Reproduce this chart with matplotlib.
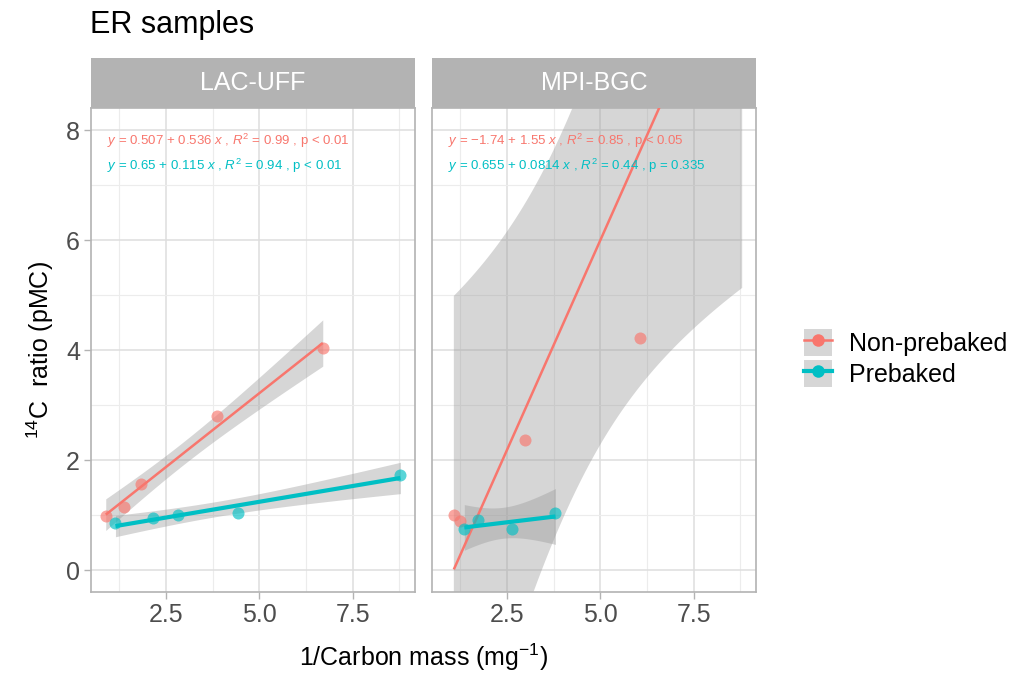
import matplotlib
matplotlib.use("Agg")
import matplotlib.pyplot as plt
import numpy as np
from matplotlib.lines import Line2D
from matplotlib.patches import Patch

plt.rcParams["font.family"] = ["Liberation Sans", "DejaVu Sans"]
plt.rcParams["mathtext.fontset"] = "custom"
plt.rcParams["mathtext.rm"] = "Liberation Sans"
plt.rcParams["mathtext.it"] = "Liberation Sans:italic"

# data (1/carbon mass vs 14C pMC)
panels = ["LAC-UFF", "MPI-BGC"]
groups = ["Non-prebaked", "Prebaked"]

lac_non_x = [0.89, 1.38, 1.83, 3.87, 6.70]
lac_non_y = [0.98, 1.15, 1.56, 2.80, 4.03]
lac_pre_x = [1.15, 2.15, 2.82, 4.43, 8.78]
lac_pre_y = [0.85, 0.94, 1.00, 1.03, 1.73]

# last Non-prebaked MPI point sits above the visible y range
mpi_non_x = [1.08, 1.24, 2.98, 6.06, 8.80]
mpi_non_y = [1.00, 0.89, 2.37, 4.22, 14.1]
mpi_pre_x = [1.36, 1.73, 2.64, 3.80]
mpi_pre_y = [0.75, 0.91, 0.74, 1.03]

labels = {
    ("LAC-UFF", "Non-prebaked"): r"$y$ = 0.507 + 0.536 $x$ , $R^2$ = 0.99 , p < 0.01",
    ("LAC-UFF", "Prebaked"): r"$y$ = 0.65 + 0.115 $x$ , $R^2$ = 0.94 , p < 0.01",
    ("MPI-BGC", "Non-prebaked"): r"$y$ = $-$1.74 + 1.55 $x$ , $R^2$ = 0.85 , p < 0.05",
    ("MPI-BGC", "Prebaked"): r"$y$ = 0.655 + 0.0814 $x$ , $R^2$ = 0.44 , p = 0.335",
}

data = {
    ("LAC-UFF", "Non-prebaked"): (lac_non_x, lac_non_y),
    ("LAC-UFF", "Prebaked"): (lac_pre_x, lac_pre_y),
    ("MPI-BGC", "Non-prebaked"): (mpi_non_x, mpi_non_y),
    ("MPI-BGC", "Prebaked"): (mpi_pre_x, mpi_pre_y),
}

colors = {"Non-prebaked": "#F8766D", "Prebaked": "#00BFC4"}
line_w = {"Non-prebaked": 1.8, "Prebaked": 3.0}
T975 = {2: 4.303, 3: 3.182}


def smooth(ax, x, y, color, lw):
    """lm fit with 95% confidence band, like geom_smooth(method='lm')."""
    x = np.asarray(x); y = np.asarray(y)
    n = len(x)
    b, a = np.polyfit(x, y, 1)
    res = y - (a + b * x)
    s = np.sqrt(np.sum(res ** 2) / (n - 2))
    sxx = np.sum((x - x.mean()) ** 2)
    xg = np.linspace(x.min(), x.max(), 80)
    fit = a + b * xg
    hw = T975[n - 2] * s * np.sqrt(1 / n + (xg - x.mean()) ** 2 / sxx)
    ax.fill_between(xg, fit - hw, fit + hw, color="#999999", alpha=0.4, lw=0, zorder=2)
    ax.plot(xg, fit, color=color, lw=lw, zorder=4, solid_capstyle="butt")


fig = plt.figure(figsize=(10.27, 6.73), dpi=100)
W, H = 1027, 673
lefts = [91, 432]
pw = 324
top, bot = 108, 592
strip_h = 50

for i, p in enumerate(panels):
    ax = fig.add_axes([lefts[i] / W, 1 - bot / H, pw / W, (bot - top) / H])
    for g in groups:
        x, y = data[(p, g)]
        smooth(ax, x, y, colors[g], line_w[g])
        ax.scatter(x, y, s=75, color=colors[g], alpha=0.65, lw=0, zorder=5)
    for j, g in enumerate(groups):
        ax.text(0.92, 7.8 - 0.45 * j, labels[(p, g)], color=colors[g],
                fontsize=9.5, ha="left", va="center", zorder=6)
    ax.set_xlim(0.495, 9.17)
    ax.set_ylim(-0.4, 8.4)
    ax.set_xticks([2.5, 5.0, 7.5])
    ax.set_xticklabels(["2.5", "5.0", "7.5"])
    ax.set_xticks([1.25, 3.75, 6.25, 8.75], minor=True)
    ax.set_yticks([0, 2, 4, 6, 8])
    ax.set_yticks([1, 3, 5, 7], minor=True)
    ax.grid(which="major", color="#dedede", lw=1.1, zorder=0)
    ax.grid(which="minor", color="#ececec", lw=0.8, zorder=0)
    ax.set_axisbelow(True)
    for sp in ax.spines.values():
        sp.set_color("#b3b3b3"); sp.set_linewidth(1.2)
    ax.tick_params(which="major", color="#b3b3b3", length=5, width=1,
                   labelcolor="#4d4d4d", labelsize=18, pad=3)
    ax.tick_params(which="minor", length=0)
    if i > 0:
        ax.tick_params(axis="y", left=False, labelleft=False)

    sax = fig.add_axes([lefts[i] / W, 1 - top / H, pw / W, strip_h / H])
    sax.set_facecolor("#b3b3b3")
    sax.set_xticks([]); sax.set_yticks([])
    for sp in sax.spines.values():
        sp.set_visible(False)
    sax.text(0.5, 0.5, p, color="white", fontsize=18, ha="center", va="center",
             transform=sax.transAxes)

fig.text(90 / W, 1 - 25 / H, "ER samples", fontsize=22, ha="left", va="center")
fig.text(40 / W, 1 - 350 / H, r"$^{14}$C  ratio (pMC)", fontsize=18, rotation=90,
         ha="center", va="center")
fig.text(424 / W, 1 - 657 / H, r"1/Carbon mass (mg$^{-1}$)", fontsize=18,
         ha="center", va="center")

handles = []
for g in groups:
    handles.append((Patch(facecolor="#999999", alpha=0.4, edgecolor="none"),
                    Line2D([], [], color=colors[g], lw=line_w[g], marker="o",
                           markersize=9, markeredgewidth=0)))
fig.legend(handles, groups, loc="center left", bbox_to_anchor=(804 / W, 1 - 358 / H),
           frameon=False, fontsize=18, handlelength=1.1, handleheight=1.3,
           handletextpad=0.7, labelspacing=0.15, borderaxespad=0, borderpad=0)

fig.savefig("out.png", dpi=100)
